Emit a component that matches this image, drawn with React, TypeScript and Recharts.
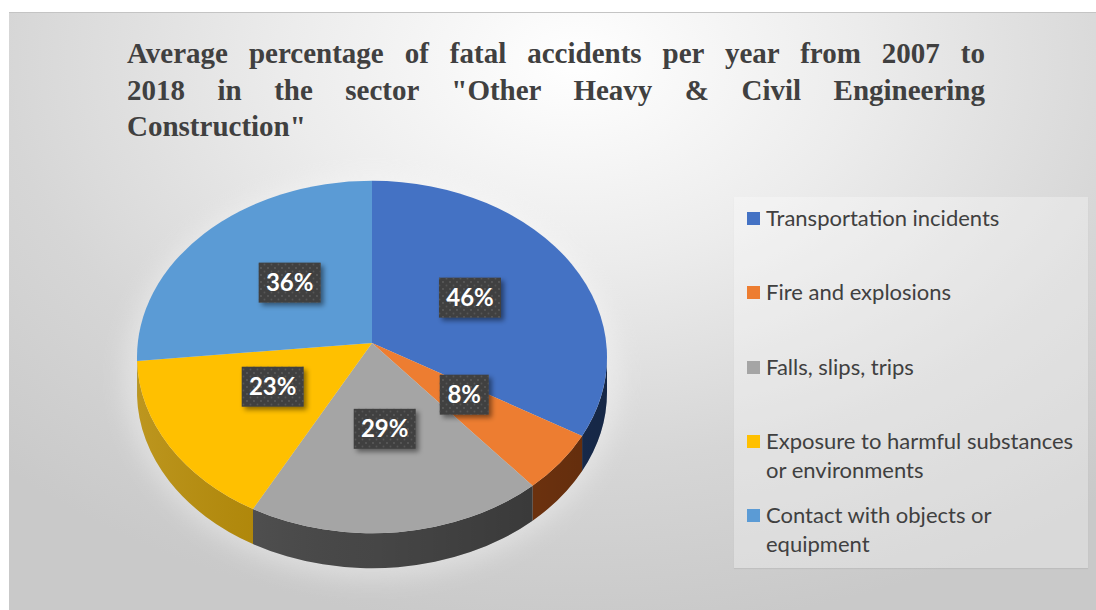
import React from "react";
import { PieChart, Pie, Cell, Legend } from "recharts";

const categories = [
  "Transportation incidents",
  "Fire and explosions",
  "Falls, slips, trips",
  "Exposure to harmful substances or environments",
  "Contact with objects or equipment",
];
const percentages = [46, 8, 29, 23, 36];
const titleLines = [
  "Average percentage of fatal accidents per year from 2007 to",
  "2018 in the sector \"Other Heavy & Civil Engineering",
  "Construction\"",
];

const colors = ["#4472C4", "#ED7D31", "#A5A5A5", "#FFC000", "#5B9BD5"];
const sideColors = ["#1f3864", "#8a3f12", "#4a4a4a", "#b48800", "#3a78b8"];

const data = categories.map((name, i) => ({ name, value: percentages[i] }));

const SQUASH = 0.75; // vertical tilt of the pie
const DEPTH = 35; // thickness of the pie
const LIFT = 14; // ellipse centre sits a little lower than the apex
const RAD = Math.PI / 180;

const pt = (cx: number, cy: number, rx: number, ry: number, a: number) =>
  [cx + rx * Math.cos(a * RAD), cy - ry * Math.sin(a * RAD)] as [number, number];

function Slice(props: any) {
  const { cx, cy, outerRadius, startAngle, endAngle, index } = props;
  const rx = outerRadius;
  const ry = outerRadius * SQUASH;
  const ey = cy + LIFT;
  const s = Math.max(startAngle, endAngle);
  const e = Math.min(startAngle, endAngle);
  const [sx, sy] = pt(cx, ey, rx, ry, s);
  const [ex, ey2] = pt(cx, ey, rx, ry, e);
  const large = s - e > 180 ? 1 : 0;
  const top = `M${cx},${cy} L${sx},${sy} A${rx},${ry} 0 ${large} 1 ${ex},${ey2} Z`;

  // side wall only where the rim faces the viewer
  let wall: string | null = null;
  const a = Math.max(e, -180);
  const b = Math.min(s, 0);
  if (b > a) {
    const [bx, by] = pt(cx, ey, rx, ry, b);
    const [ax, ay] = pt(cx, ey, rx, ry, a);
    wall = `M${bx},${by} A${rx},${ry} 0 0 1 ${ax},${ay} L${ax},${ay + DEPTH} A${rx},${ry} 0 0 0 ${bx},${by + DEPTH} Z`;
  }
  return (
    <g>
      {wall && <path d={wall} fill={sideColors[index]} />}
      {wall && <path d={wall} fill="url(#wallShade)" />}
      <path d={top} fill={colors[index]} />
    </g>
  );
}

function renderLabel(props: any) {
  const { cx, cy, midAngle, outerRadius, value } = props;
  const x = cx + 0.49 * outerRadius * Math.cos(midAngle * RAD);
  const y = cy - 0.49 * outerRadius * SQUASH * Math.sin(midAngle * RAD);
  const w = 22 + 13 * String(value).length + 14;
  const h = 40;
  return (
    <g>
      <rect x={x - w / 2} y={y - h / 2} width={w} height={h} fill="#404040" filter="url(#boxShadow)" />
      <rect x={x - w / 2} y={y - h / 2} width={w} height={h} fill="url(#dots)" />
      <text
        x={x}
        y={y + 8.5}
        textAnchor="middle"
        fill="#ffffff"
        fontFamily="Lato, sans-serif"
        fontWeight={700}
        fontSize={24}
      >
        {`${value}%`}
      </text>
    </g>
  );
}

function renderLegend(props: any) {
  const items = [...(props.payload || [])].sort(
    (p: any, q: any) => categories.indexOf(p.value) - categories.indexOf(q.value)
  );
  return (
    <div
      style={{
        position: "relative",
        width: 354,
        height: 371,
        background: "rgba(255,255,255,0.3)",
        boxShadow: "0 1px 1px rgba(0,0,0,0.06)",
        fontFamily: "Lato, sans-serif",
        fontSize: 22,
        color: "#404040",
      }}
    >
      {items.map((entry: any, i: number) => (
        <div key={i} style={{ position: "absolute", left: 0, top: 6 + i * 74.25, width: 354 }}>
          <div
            style={{
              position: "absolute",
              left: 13,
              top: 9,
              width: 13,
              height: 13,
              background: entry.color,
            }}
          />
          <div style={{ position: "absolute", left: 32, top: 0, width: 316, lineHeight: "29px" }}>
            {entry.value}
          </div>
        </div>
      ))}
    </div>
  );
}

export default function App() {
  return (
    <div style={{ position: "absolute", left: 0, top: 0, width: 1096, height: 610, background: "#ffffff", overflow: "hidden" }}>
      <div
        style={{
          position: "absolute",
          left: 9,
          top: 12,
          width: 1090,
          height: 600,
          borderTop: "1px solid #c4c4c4",
          background:
            "radial-gradient(ellipse 75% 95% at 52% 8%, #ffffff 0%, #ececec 35%, #d6d6d6 70%, #c9c9c9 100%)",
        }}
      />
      <svg width={0} height={0} style={{ position: "absolute" }}>
        <defs>
          <pattern id="dots" width={7} height={7} patternUnits="userSpaceOnUse">
            <circle cx={2} cy={2} r={0.9} fill="#5e5e5e" />
            <circle cx={5.5} cy={5.5} r={0.9} fill="#565656" />
          </pattern>
          <filter id="boxShadow" x="-30%" y="-30%" width="160%" height="170%">
            <feDropShadow dx={3} dy={3} stdDeviation={2.5} floodColor="#000" floodOpacity={0.45} />
          </filter>
          <linearGradient id="wallShade" gradientUnits="userSpaceOnUse" x1={137} y1={0} x2={607} y2={0}>
            <stop offset="0%" stopColor="#ffffff" stopOpacity={0.12} />
            <stop offset="50%" stopColor="#000000" stopOpacity={0.05} />
            <stop offset="100%" stopColor="#000000" stopOpacity={0.3} />
          </linearGradient>
          <filter id="glow" x="-20%" y="-20%" width="140%" height="140%">
            <feGaussianBlur stdDeviation={12} />
          </filter>
        </defs>
      </svg>
      <svg width={1096} height={610} style={{ position: "absolute", left: 0, top: 0 }}>
        <ellipse cx={372} cy={378} rx={248} ry={200} fill="#ffffff" opacity={0.35} filter="url(#glow)" />
      </svg>
      {titleLines.map((line, i) => (
        <div
          key={i}
          style={{
            position: "absolute",
            left: 127,
            top: 35 + i * 36.5,
            width: 858,
            whiteSpace: "nowrap",
            fontFamily: "'Liberation Serif', 'Times New Roman', serif",
            fontWeight: 700,
            fontSize: 29,
            lineHeight: "36.5px",
            color: "#404040",
            textAlign: "left",
            textAlignLast: i < 2 ? "justify" : "left",
          }}
        >
          {line}
        </div>
      ))}
      <div style={{ position: "absolute", left: 0, top: 0 }}>
        <PieChart width={1096} height={610} margin={{ top: 0, right: 0, bottom: 0, left: 0 }}>
          <Pie
            data={data}
            dataKey="value"
            nameKey="name"
            cx={372}
            cy={343}
            outerRadius={235}
            startAngle={90}
            endAngle={-270}
            stroke="none"
            shape={Slice}
            activeShape={Slice}
            inactiveShape={Slice}
            label={renderLabel}
            labelLine={false}
            isAnimationActive={false}
          >
            {data.map((d, i) => (
              <Cell key={d.name} fill={colors[i]} />
            ))}
          </Pie>
          <Legend
            content={renderLegend}
            wrapperStyle={{ left: 734, top: 197, width: 354, height: 371 }}
          />
        </PieChart>
      </div>
    </div>
  );
}
